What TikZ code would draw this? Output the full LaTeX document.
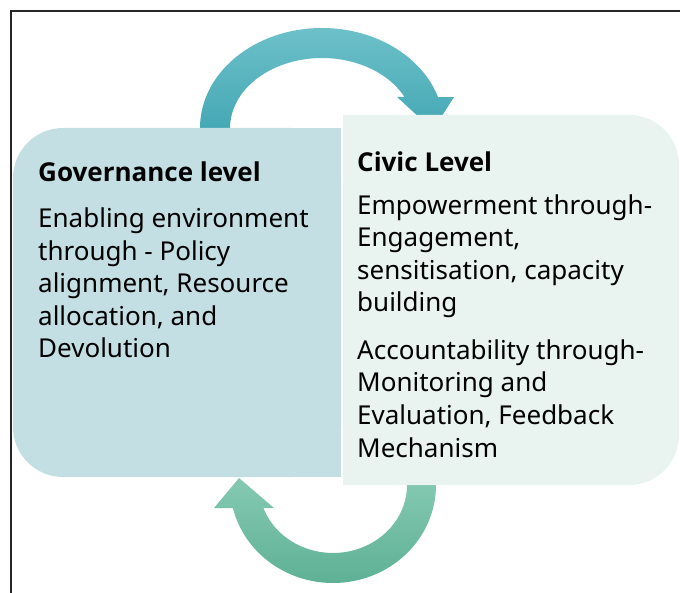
\documentclass[tikz,border=0pt]{standalone}
\usepackage{fontspec}
\setmainfont{Noto Sans}
\newfontfamily\headfont{Open Sans}
\definecolor{govfill}{HTML}{C4DFE3}
\definecolor{civfill}{HTML}{E9F3F0}
\definecolor{tealtop}{HTML}{6DC0C9}
\definecolor{tealbot}{HTML}{44A8B4}
\definecolor{greentop}{HTML}{86C9B3}
\definecolor{greenbot}{HTML}{5EB195}
\begin{document}
\begin{tikzpicture}[x=1pt,y=-1pt,
  headtext/.style={font=\headfont\fontsize{26}{32.6}\selectfont\bfseries,anchor=base west,inner sep=0pt,align=left},
  bodytext/.style={font=\fontsize{26}{32.6}\selectfont,anchor=base west,inner sep=0pt,align=left}]
\useasboundingbox (0,0) rectangle (680,593);
% frame
\draw[black!85,line width=1.3pt] (11,593) -- (11,11) -- (680,11);
% cycle arrows
\shade[top color=tealtop,bottom color=tealbot]
  (200,128) arc[start angle=180,end angle=342,x radius=122,y radius=100]
  -- (454,97) -- (433,130) -- (397,97) -- (404.5,97)
  arc[start angle=333.7,end angle=180,x radius=92,y radius=70] -- cycle;
\shade[top color=greentop,bottom color=greenbot]
  (436,485) arc[start angle=0,end angle=166.4,x radius=103,y radius=98]
  -- (214,508) -- (239,478) -- (274,508) -- (263.4,508)
  arc[start angle=160.2,end angle=0,x radius=74,y radius=68] -- cycle;
% boxes
\fill[govfill,rounded corners=50pt] (13,128) rectangle (341,477);
\fill[govfill] (200,128) rectangle (341,477);
\fill[civfill,rounded corners=50pt] (343,115) rectangle (679,485);
\fill[civfill] (343,115) rectangle (500,485);
% texts (base = last line)
\node[headtext] (govhead) at (38,182) {Governance level};
\node[bodytext] (govbody) at (38,358) {Enabling environment\\through - Policy\\alignment, Resource\\allocation, and\\Devolution};
\node[headtext] (civhead) at (357,172) {Civic Level};
\node[bodytext] (civempower) at (357,312) {Empowerment through-\\Engagement,\\sensitisation, capacity\\building};
\node[bodytext] (civaccount) at (357,457) {Accountability through-\\Monitoring and\\Evaluation, Feedback\\Mechanism};
\end{tikzpicture}
\end{document}
